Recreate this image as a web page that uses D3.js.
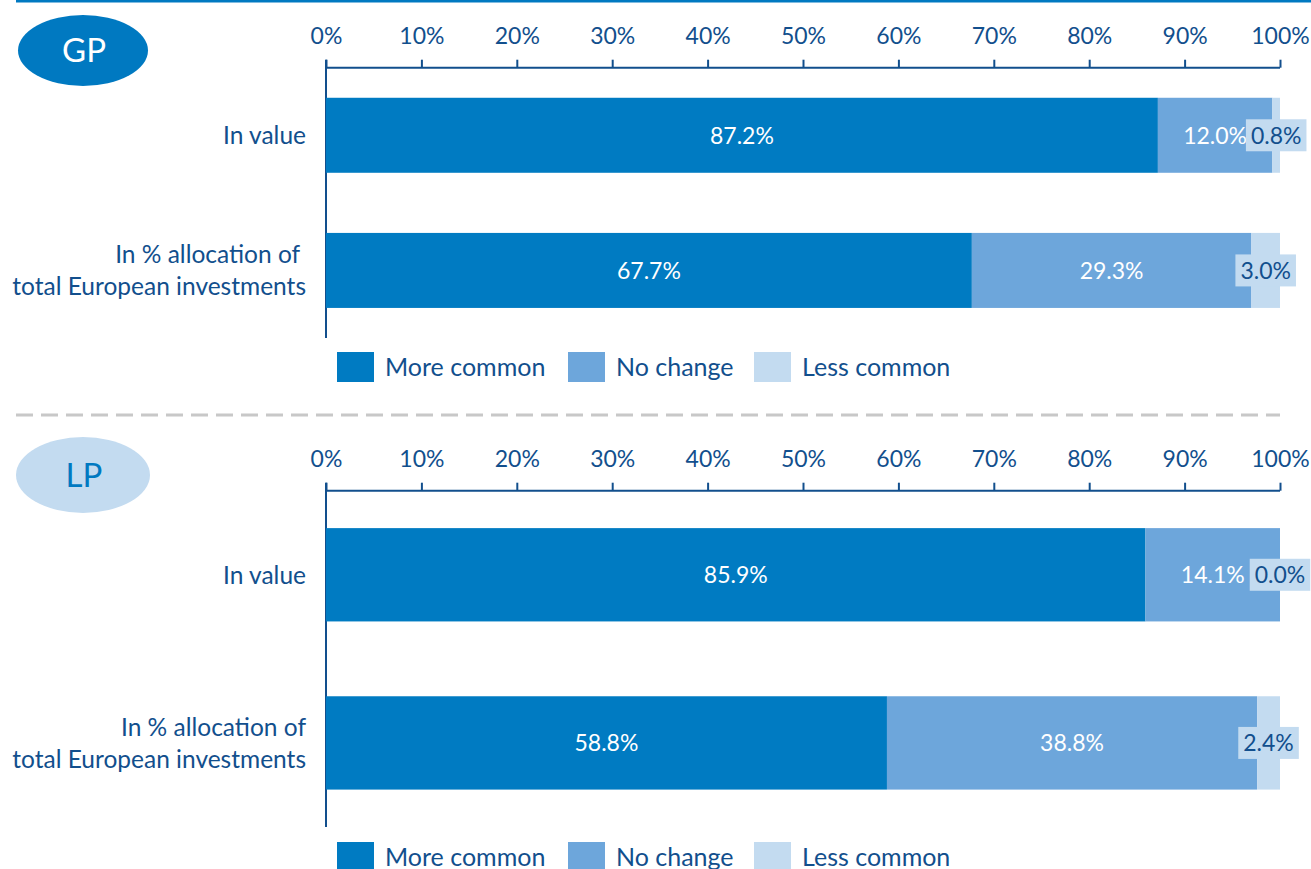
<!DOCTYPE html>
<html>
<head>
<meta charset="utf-8">
<script src="https://cdn.jsdelivr.net/npm/d3@7"></script>
<style>
  html, body { margin: 0; padding: 0; background: #fff; }
  svg { display: block; font-family: Lato, "Noto Sans", sans-serif; }
</style>
</head>
<body>
<svg id="chart" width="1311" height="869"></svg>
<script>
// data
const panelNames = ["GP", "LP"];
const seriesNames = ["More common", "No change", "Less common"];
const gpRows = [["In value"], ["In % allocation of ", "total European investments"]];
const lpRows = [["In value"], ["In % allocation of", "total European investments"]];
const gpMore = [87.2, 67.7];
const gpNoChange = [12.0, 29.3];
const gpLess = [0.8, 3.0];
const lpMore = [85.9, 58.8];
const lpNoChange = [14.1, 38.8];
const lpLess = [0.0, 2.4];
const tickValues = [0, 10, 20, 30, 40, 50, 60, 70, 80, 90, 100];

const colors = ["#007bc2", "#6da6db", "#c3dbf0"];
const navy = "#124f8d";

const svg = d3.select("#chart");

// top rule and dashed separator
svg.append("line")
  .attr("x1", 16).attr("x2", 1311).attr("y1", 1).attr("y2", 1)
  .attr("stroke", "#0079c1").attr("stroke-width", 3);
svg.append("line")
  .attr("x1", 16).attr("x2", 1280).attr("y1", 415).attr("y2", 415)
  .attr("stroke", "#c8c8c8").attr("stroke-width", 3)
  .attr("stroke-dasharray", "17 8");

const panels = [
  {
    name: panelNames[0], rows: gpRows, more: gpMore, noChange: gpNoChange, less: gpLess,
    top: 67.7, bottom: 338, legendY: 367, badgeY: 50.5, rx: 65, ry: 35.5,
    badgeFill: "#0079c1", badgeText: "#fff"
  },
  {
    name: panelNames[1], rows: lpRows, more: lpMore, noChange: lpNoChange, less: lpLess,
    top: 490.7, bottom: 827, legendY: 857, badgeY: 475, rx: 67, ry: 38,
    badgeFill: "#c3dbf0", badgeText: "#0079c1"
  }
];

const x = d3.scaleLinear().domain([0, 100]).range([326, 1280]);

panels.forEach((p) => {
  const g = svg.append("g");

  // badge
  g.append("ellipse")
    .attr("cx", 83).attr("cy", p.badgeY).attr("rx", p.rx).attr("ry", p.ry)
    .attr("fill", p.badgeFill);
  g.append("text")
    .attr("x", 84).attr("y", p.badgeY).attr("dy", "0.36em")
    .attr("text-anchor", "middle")
    .attr("font-size", 33).attr("fill", p.badgeText)
    .text(p.name);

  const table = p.rows.map((r, i) => ({
    row: i,
    "More common": p.more[i],
    "No change": p.noChange[i],
    "Less common": p.less[i]
  }));

  const y = d3.scaleBand()
    .domain(table.map((d) => d.row))
    .range([p.top, p.bottom])
    .paddingInner(0.445)
    .paddingOuter(0.2225);

  // top axis
  const ax = g.append("g")
    .attr("transform", `translate(0,${p.top})`)
    .call(d3.axisTop(x).tickValues(tickValues).tickSize(8).tickPadding(16)
      .tickFormat((d) => d + "%"));
  ax.selectAll("path, line").attr("stroke", navy).attr("stroke-width", 2);
  ax.select(".domain").attr("d", `M${x(0)},0H${x(100)}`);
  ax.selectAll("text")
    .attr("fill", navy).attr("font-size", 23)
    .attr("font-family", "Lato, 'Noto Sans', sans-serif");

  // left axis line
  g.append("line")
    .attr("x1", x(0)).attr("x2", x(0))
    .attr("y1", p.top - 8).attr("y2", p.bottom)
    .attr("stroke", navy).attr("stroke-width", 2);

  // stacked bars
  const stacked = d3.stack().keys(seriesNames)(table);
  const layers = g.selectAll("g.layer")
    .data(stacked).join("g")
    .attr("class", "layer")
    .attr("fill", (d, i) => colors[i]);
  layers.selectAll("rect")
    .data((d) => d).join("rect")
    .attr("x", (d) => x(d[0]))
    .attr("y", (d) => y(d.data.row))
    .attr("width", (d) => x(d[1]) - x(d[0]))
    .attr("height", y.bandwidth());

  // value labels
  stacked.forEach((layer, si) => {
    layer.forEach((d) => {
      const cx = (x(d[0]) + x(d[1])) / 2;
      const cy = y(d.data.row) + y.bandwidth() / 2;
      const label = d3.format(".1f")(d[1] - d[0]) + "%";
      if (si < 2) {
        g.append("text")
          .attr("x", cx).attr("y", cy).attr("dy", "0.36em")
          .attr("text-anchor", "middle")
          .attr("font-size", 23).attr("fill", "#fff")
          .text(label);
      } else {
        const box = g.append("rect").attr("fill", colors[2]);
        const t = g.append("text")
          .attr("x", cx).attr("y", cy).attr("dy", "0.36em")
          .attr("text-anchor", "middle")
          .attr("font-size", 23).attr("fill", navy)
          .text(label);
        const w = t.node().getComputedTextLength() + 10;
        box.attr("x", cx - w / 2).attr("y", cy - 16)
          .attr("width", w).attr("height", 32);
      }
    });
  });

  // row labels
  table.forEach((d, i) => {
    const lines = p.rows[i];
    const cy = y(d.row) + y.bandwidth() / 2;
    const t = g.append("text")
      .attr("text-anchor", "end")
      .attr("font-size", 24.5).attr("fill", navy)
      .style("white-space", "pre");
    lines.forEach((line, li) => {
      t.append("tspan")
        .attr("x", 306)
        .attr("y", cy + (li - (lines.length - 1) / 2) * 32)
        .attr("dy", "0.36em")
        .text(line);
    });
  });

  // legend
  const offsets = [337, 568, 754];
  const leg = g.selectAll("g.legend")
    .data(seriesNames).join("g")
    .attr("class", "legend")
    .attr("transform", (d, i) => `translate(${offsets[i]},${p.legendY})`);
  leg.append("rect")
    .attr("x", 0).attr("y", -15).attr("width", 37).attr("height", 30)
    .attr("fill", (d, i) => colors[i]);
  leg.append("text")
    .attr("x", 48).attr("y", 0).attr("dy", "0.36em")
    .attr("font-size", 25).attr("fill", navy)
    .text((d) => d);
});
</script>
</body>
</html>
